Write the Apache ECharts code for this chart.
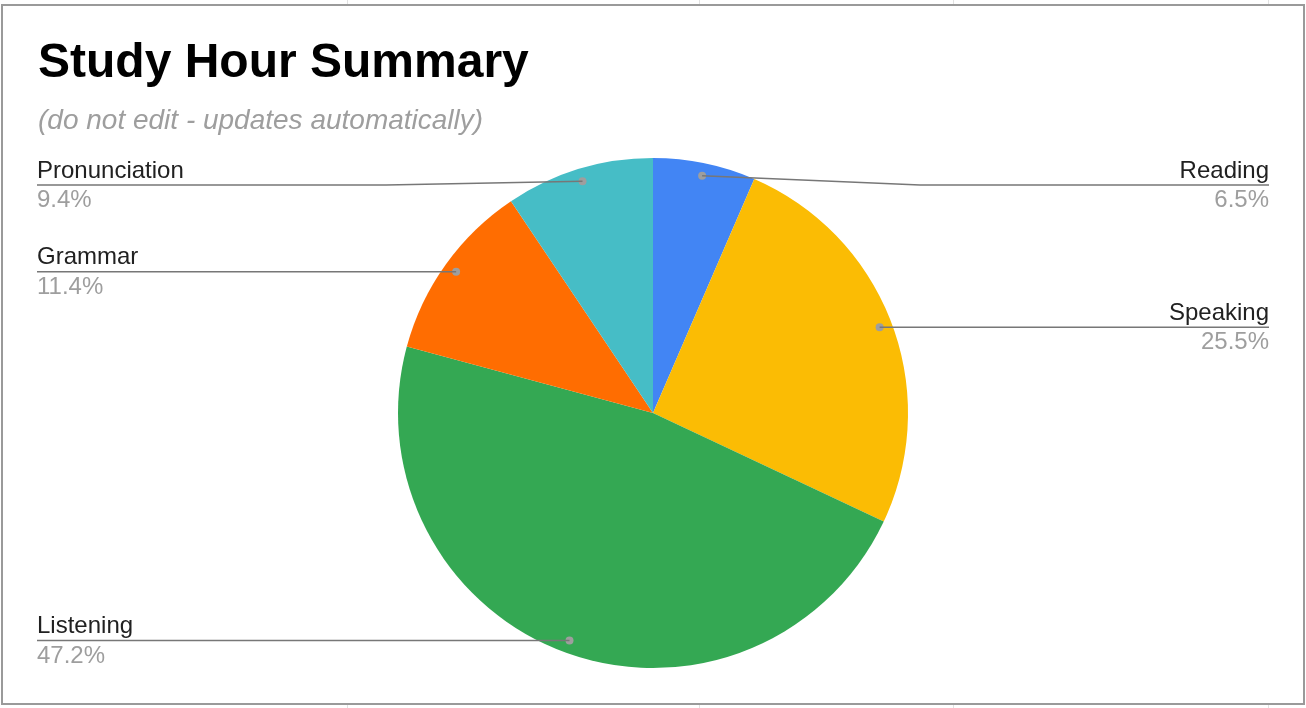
<!DOCTYPE html>
<html>
<head>
<meta charset="utf-8">
<script src="https://cdn.jsdelivr.net/npm/echarts@6/dist/echarts.min.js"></script>
<style>
  html, body { margin: 0; padding: 0; background: #fff; }
  #wrap { position: relative; width: 1306px; height: 708px; overflow: hidden; }
  #chart { position: absolute; left: 0; top: 0; width: 1306px; height: 708px; }
  .frame { position: absolute; left: 1px; top: 4px; width: 1304px; height: 701px;
           box-sizing: border-box; border: 2px solid #9a9a9a; pointer-events: none; }
  .grid { position: absolute; width: 1px; background: #e2e2e2; }
</style>
</head>
<body>
<div id="wrap">
  <div id="chart"></div>
  <div class="frame"></div>
</div>
<script>
// data
const categories = ['Reading', 'Speaking', 'Listening', 'Grammar', 'Pronunciation'];
const shares = [6.5, 25.5, 47.2, 11.4, 9.4];
const colors = ['#4285F4', '#FBBC04', '#34A853', '#FF6D01', '#46BDC6'];

// spreadsheet gridline stubs above / below the chart frame
[347, 699, 953, 1268].forEach(function (x) {
  ['top:0;height:4px', 'top:705px;height:3px'].forEach(function (pos) {
    const d = document.createElement('div');
    d.className = 'grid';
    d.style.cssText = 'left:' + x + 'px;' + pos;
    document.getElementById('wrap').appendChild(d);
  });
});

const font = "'Liberation Sans', Arial, sans-serif";
const cx = 653, cy = 413, R = 255;
const dotR = R * 0.95;   // where the leader lines start
const labelMinY = 185;   // labels stay below the subtitle

let chart = echarts.init(document.getElementById('chart'));

const option = {
  animation: false,
  textStyle: { fontFamily: font },
  title: [
    {
      text: 'Study Hour Summary',
      left: 38, top: 40, padding: 0,
      textStyle: { fontFamily: font, fontSize: 48, fontWeight: 'bold', color: '#000' }
    },
    {
      text: '(do not edit - updates automatically)',
      left: 38, top: 107, padding: 0,
      textStyle: { fontFamily: font, fontSize: 28, fontStyle: 'italic', fontWeight: 'normal', color: '#9e9e9e' }
    }
  ],
  series: [
    {
      // coloured slices, with the small grey dot inside each one
      type: 'pie',
      center: [cx, cy],
      radius: R,
      startAngle: 90,
      clockwise: true,
      emphasis: { disabled: true },
      itemStyle: { borderWidth: 0 },
      data: categories.map(function (c, i) {
        return { name: c, value: shares[i], itemStyle: { color: colors[i] } };
      }),
      labelLine: { show: false },
      label: {
        show: true,
        position: 'inside',
        formatter: ' ',
        fontSize: 1,
        width: 8,
        height: 8,
        lineHeight: 8,
        padding: 0,
        backgroundColor: '#9e9e9e',
        borderRadius: 4
      },
      // keep the direction of the inside label, move the dot out to dotR
      labelLayout: function (params) {
        const r = params.labelRect;
        const mx = r.x + r.width / 2 - cx, my = r.y + r.height / 2 - cy;
        const d = Math.sqrt(mx * mx + my * my) || 1;
        return {
          x: cx + mx / d * dotR,
          y: cy + my / d * dotR
        };
      }
    },
    {
      // transparent copy that carries the outside labels and leader lines on top
      type: 'pie',
      center: [cx, cy],
      radius: R,
      startAngle: 90,
      clockwise: true,
      silent: true,
      z: 5,
      avoidLabelOverlap: false,
      emphasis: { disabled: true },
      itemStyle: { color: 'rgba(0,0,0,0)', borderWidth: 0 },
      data: categories.map(function (c, i) { return { name: c, value: shares[i] }; }),
      label: {
        show: true,
        position: 'outside',
        alignTo: 'edge',
        edgeDistance: 37,
        padding: [3, 0, 0, 0],
        formatter: function (p) {
          return '{n|' + p.name + '}\n{p|' + p.value + '%}';
        },
        rich: {
          n: { fontFamily: font, fontSize: 24, color: '#212121', lineHeight: 28 },
          p: { fontFamily: font, fontSize: 24, color: '#9e9e9e', lineHeight: 31 }
        }
      },
      labelLine: {
        show: true,
        length: 10,
        length2: 10,
        lineStyle: { color: '#777', width: 1.5 }
      },
      labelLayout: function (params) {
        const pts = params.labelLinePoints;
        if (!pts) return {};
        // leader line starts just inside the slice
        const ox = pts[0][0] - cx, oy = pts[0][1] - cy;
        const od = Math.sqrt(ox * ox + oy * oy) || 1;
        const dx = cx + ox / od * dotR;
        const dy = cy + oy / od * dotR;
        const r = params.labelRect;
        const isLeft = r.x < cx;
        const endX = isLeft ? r.x : r.x + r.width;
        const ly = Math.max(dy, labelMinY);
        const kneeX = cx + (isLeft ? -1 : 1) * (R + 12);
        const knee = Math.abs(dx - cx) < R + 12 ? [kneeX, ly] : [(dx + endX) / 2, ly];
        return {
          y: ly,
          labelLinePoints: [[dx, dy], knee, [endX, ly]]
        };
      }
    }
  ]
};

chart.setOption(option);
window.addEventListener('resize', () => {
  chart.resize();
});
</script>
</body>
</html>
